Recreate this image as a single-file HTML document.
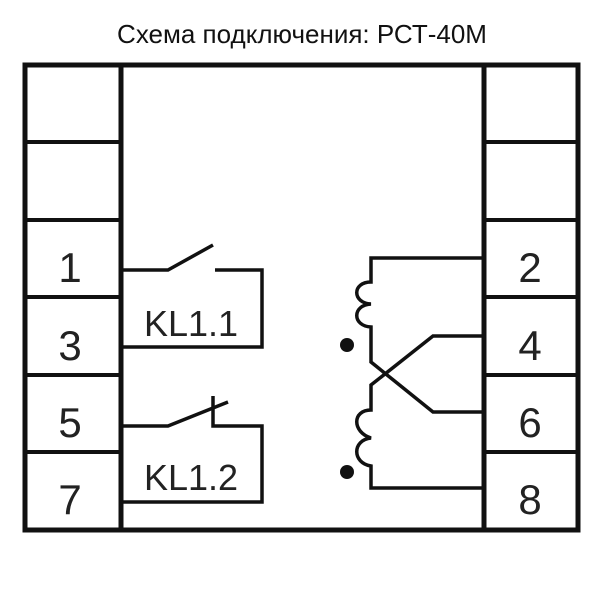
<!DOCTYPE html>
<html><head><style>body{margin:0;background:#fff}</style></head><body>
<svg width="600" height="600" viewBox="0 0 600 600" xmlns="http://www.w3.org/2000/svg">
<text x="302" y="43" text-anchor="middle" font-family="Liberation Sans, DejaVu Sans, sans-serif" font-size="26" fill="#111">Схема подключения: РСТ-40М</text>
<g stroke="#111" stroke-width="5" fill="none">
<rect x="25" y="65" width="553" height="465"/>
<line x1="121" y1="65" x2="121" y2="530"/>
<line x1="484" y1="65" x2="484" y2="530"/>
<g stroke-width="4">
<line x1="25" y1="142" x2="121" y2="142"/><line x1="25" y1="220" x2="121" y2="220"/><line x1="25" y1="297" x2="121" y2="297"/><line x1="25" y1="375" x2="121" y2="375"/><line x1="25" y1="452" x2="121" y2="452"/>
<line x1="484" y1="142" x2="578" y2="142"/><line x1="484" y1="220" x2="578" y2="220"/><line x1="484" y1="297" x2="578" y2="297"/><line x1="484" y1="375" x2="578" y2="375"/><line x1="484" y1="452" x2="578" y2="452"/>
</g>
<g stroke-width="3.5">
<polyline points="121,270 168,270 213,245"/>
<polyline points="215,270 262,270 262,347 121,347"/>
<polyline points="121,426 168,426 228,402"/>
<polyline points="213,396 213,426 262,426 262,502 121,502"/>
<path d="M484,258 L371,258 L371,282 C352,282 352,303 371,304 C352,305 352,326 371,327 L371,362 L433,412 L484,412"/>
<path d="M484,336 L433,336 L371,385 L371,410 C352,410 352,432 371,438 C352,440 352,463 371,466 L371,488 L484,488"/>
</g>
</g>
<circle cx="347" cy="345" r="7" fill="#111"/>
<circle cx="347" cy="472" r="7" fill="#111"/>
<g font-family="Liberation Sans, DejaVu Sans, sans-serif" fill="#222">
<text x="191" y="336" text-anchor="middle" font-size="36">KL1.1</text>
<text x="191" y="490" text-anchor="middle" font-size="36">KL1.2</text>
<g font-size="42" text-anchor="middle">
<text x="70" y="282">1</text><text x="70" y="360">3</text><text x="70" y="437">5</text><text x="70" y="514">7</text>
<text x="530" y="282">2</text><text x="530" y="360">4</text><text x="530" y="437">6</text><text x="530" y="514">8</text>
</g></g>
</svg>
</body></html>
